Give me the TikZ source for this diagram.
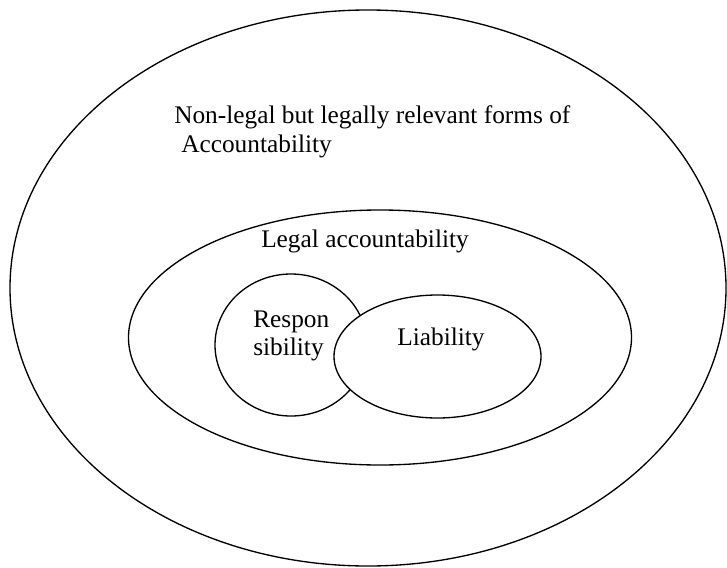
\documentclass[tikz,border=0pt]{standalone}
\usepackage{fontspec}
\setmainfont{Liberation Serif}
\usetikzlibrary{positioning}
\tikzset{
	setline/.style={line width=1pt},
	lbl/.style={font=\fontsize{19}{23}\selectfont, inner sep=0pt}
}

\begin{document}
\begin{tikzpicture}[x=0.75pt,y=-0.75pt]
				\useasboundingbox (0,0) rectangle (727,567);
				% draw outer and inner sets
				\draw[setline] (368,288) ellipse (358 and 278);
				\draw[setline] (380,337.5) ellipse (251.5 and 127.5);
				% draw overlapping sets
				\draw[setline] (291,345) ellipse (76 and 71);
				\filldraw[setline, fill=white] (437.5,356.5) ellipse (103.5 and 61.5);
				% add labels
				\node[lbl, anchor=base west] (nonlegal) at (174,123) {Non-legal but legally relevant forms of};
				\node[lbl, anchor=base west] (acc) at (181,152) {Accountability};
				\node[lbl, anchor=base] (legal) at (365,247) {Legal accountability};
				\node[lbl, anchor=base west] (resp) at (253,327) {Respon};
				\node[lbl, anchor=base west] (sib) at (253,355) {sibility};
				\node[lbl, anchor=base] (liab) at (441,345) {Liability};
			\end{tikzpicture}
\end{document}
